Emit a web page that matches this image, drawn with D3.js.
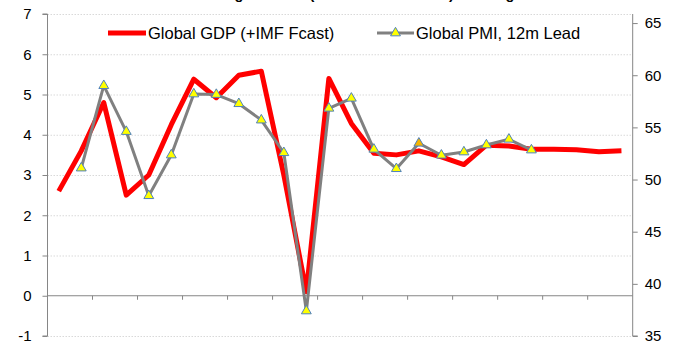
<!DOCTYPE html>
<html>
<head>
<meta charset="utf-8">
<script src="https://cdn.jsdelivr.net/npm/d3@7"></script>
<style>
  html, body { margin: 0; padding: 0; background: #fff; }
  svg { display: block; font-family: "Liberation Sans", Arial, sans-serif; }
</style>
</head>
<body>
<svg id="chart" width="684" height="343"></svg>
<script>
// Calendar years on the category axis
const years = d3.range(1998, 2024);

// Global real GDP growth, % y/y (IMF forecast for the final years)
const gdpGrowth = [2.6, 3.6, 4.8, 2.5, 3.0, 4.25, 5.38, 4.92, 5.48, 5.58,
                   3.0, 0.1, 5.4, 4.28, 3.54, 3.5, 3.6, 3.45, 3.26, 3.74,
                   3.72, 3.64, 3.64, 3.63, 3.58, 3.6];

// Global manufacturing PMI, shifted forward 12 months (null = no reading)
const pmiLead = [null, 51.1, 59.0, 54.6, 48.45, 52.35, 58.2, 58.15, 57.27, 55.7,
                 52.57, 37.4, 56.83, 57.79, 52.9, 51.04, 53.48, 52.33, 52.64, 53.31,
                 53.86, 52.83, null, null, null, null];

// Axis ticks
const gdpTicks = [-1, 0, 1, 2, 3, 4, 5, 6, 7];
const pmiTicks = [35, 40, 45, 50, 55, 60, 65];

// Legend entries
const legendLabels = ["Global GDP (+IMF Fcast)", "Global PMI, 12m Lead"];
const titleText = "Tracking Demand (Actual vs. Forecast) Leading Indicator";

// Survey reading flagged with a different fill
const flaggedYear = 2014;

const svg = d3.select("#chart");
const margin = { left: 47.5, right: 684 - 632.7, top: 14, bottom: 343 - 336 };
const W = 684, H = 343;
const axisColor = "#868686";

const x = d3.scaleBand()
  .domain(years)
  .range([margin.left, W - margin.right])
  .paddingInner(0).paddingOuter(0);

const yL = d3.scaleLinear().domain([-1, 7]).range([H - margin.bottom, margin.top]);
const yR = d3.scaleLinear().domain([35, 65.87]).range([H - margin.bottom, margin.top]);

// Title, sitting mostly above the top edge
svg.append("text")
  .attr("x", 183)
  .attr("y", -1)
  .attr("font-weight", "bold")
  .attr("font-size", 14.7)
  .attr("fill", "#000")
  .text(titleText);

// Dotted horizontal gridlines
svg.append("g")
  .selectAll("line")
  .data(gdpTicks.filter(d => d !== 0))
  .join("line")
  .attr("x1", x.range()[0]).attr("x2", x.range()[1])
  .attr("y1", d => yL(d) + 0.5).attr("y2", d => yL(d) + 0.5)
  .attr("stroke", "#d9d9d9")
  .attr("stroke-dasharray", "1.5,1.5");

// Plain hyphen for negatives
const plain = d => String(d);

// Left axis
const gL = svg.append("g")
  .attr("transform", `translate(${margin.left},0)`)
  .call(d3.axisLeft(yL).tickValues(gdpTicks).tickSize(5).tickPadding(11).tickFormat(plain));

// Right axis
const gR = svg.append("g")
  .attr("transform", `translate(${W - margin.right},0)`)
  .call(d3.axisRight(yR).tickValues(pmiTicks).tickSize(5).tickPadding(7).tickFormat(plain));

[gL, gR].forEach(g => {
  g.select(".domain").attr("stroke", axisColor).attr("d", g === gL
    ? `M-5,${yL(-1)}H0V${margin.top}H-5`
    : `M5,${yR(35)}H0V${margin.top}`);
  g.selectAll(".tick line").attr("stroke", axisColor);
  g.selectAll(".tick text").attr("font-size", 15).attr("fill", "#000")
    .attr("font-family", "'Liberation Sans', Arial, sans-serif");
});

// Category axis sitting on the zero line, a tick every two years
const xAxisY = yL(0);
const boundaries = years.filter((d, i) => i % 2 === 0 && i > 0);
const gX = svg.append("g");
gX.append("line")
  .attr("x1", x.range()[0]).attr("x2", x.range()[1])
  .attr("y1", xAxisY).attr("y2", xAxisY)
  .attr("stroke", axisColor);
gX.selectAll("line.tk")
  .data(boundaries)
  .join("line")
  .attr("class", "tk")
  .attr("x1", d => x(d)).attr("x2", d => x(d))
  .attr("y1", xAxisY).attr("y2", xAxisY + 4)
  .attr("stroke", axisColor);

const cx = d => x(d) + x.bandwidth() / 2;

// GDP line
const gdpLine = d3.line()
  .x((d, i) => cx(years[i]))
  .y(d => yL(d))
  .curve(d3.curveLinear);
svg.append("path")
  .datum(gdpGrowth)
  .attr("d", gdpLine)
  .attr("fill", "none")
  .attr("stroke", "#ff0000")
  .attr("stroke-width", 5)
  .attr("stroke-linejoin", "round");

// PMI line with triangle markers
const pmiPts = pmiLead.map((v, i) => ({ year: years[i], v })).filter(d => d.v !== null);
const pmiLine = d3.line().x(d => cx(d.year)).y(d => yR(d.v));
svg.append("path")
  .datum(pmiPts)
  .attr("d", pmiLine)
  .attr("fill", "none")
  .attr("stroke", "#808080")
  .attr("stroke-width", 3)
  .attr("stroke-linejoin", "round");

const tri = d3.symbol().type(d3.symbolTriangle).size(42);
svg.append("g")
  .selectAll("path")
  .data(pmiPts)
  .join("path")
  .attr("transform", d => `translate(${cx(d.year)},${yR(d.v)})`)
  .attr("d", tri)
  .attr("fill", d => d.year === flaggedYear ? "#f5b400" : "#ffff00")
  .attr("stroke", "#4f81bd")
  .attr("stroke-width", 1);

// Legend
const leg = svg.append("g").attr("font-size", 16.5);
leg.append("line").attr("x1", 108).attr("x2", 146).attr("y1", 33).attr("y2", 33)
  .attr("stroke", "#ff0000").attr("stroke-width", 5);
leg.append("text").attr("x", 148).attr("y", 33).attr("dy", "0.35em").text(legendLabels[0]);
leg.append("line").attr("x1", 377).attr("x2", 414).attr("y1", 33).attr("y2", 33)
  .attr("stroke", "#808080").attr("stroke-width", 3);
leg.append("path").attr("transform", "translate(395.5,33)").attr("d", tri)
  .attr("fill", "#ffff00").attr("stroke", "#4f81bd").attr("stroke-width", 1);
leg.append("text").attr("x", 416).attr("y", 33).attr("dy", "0.35em").text(legendLabels[1]);
</script>
</body>
</html>
